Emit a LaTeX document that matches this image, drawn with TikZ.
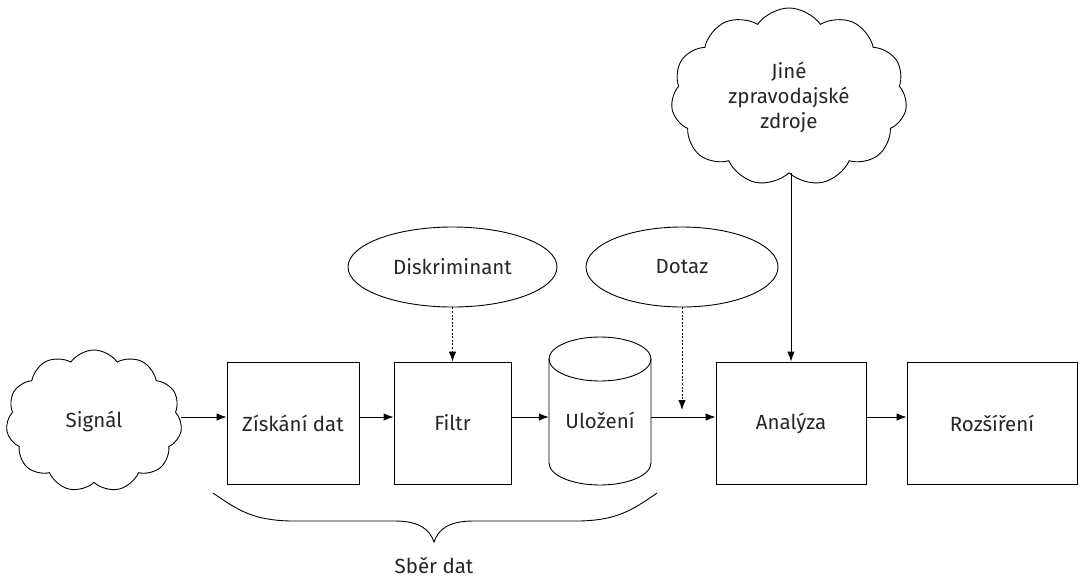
\documentclass[tikz,border=0pt]{standalone}
\usepackage{fontspec}
\setmainfont{Fira Sans}
\usetikzlibrary{shapes.symbols,shapes.geometric,arrows.meta}
\begin{document}
\begin{tikzpicture}[x=1pt,y=-1pt,
  every node/.style={font=\fontsize{20.5}{25}\selectfont, text=black!85},
  line/.style={line width=0.9pt},
  box/.style={draw, line width=0.9pt, rectangle, minimum height=122pt, inner sep=0pt},
  oval/.style={draw, line width=0.9pt, ellipse, minimum height=80pt, inner sep=0pt},
  cloudy/.style={draw, line width=0.9pt, cloud, cloud puffs=11, cloud puff arc=110, aspect=1.4, inner sep=0pt},
  arr/.style={line width=0.9pt, -{Latex[length=10pt,width=7.5pt]}},
  darr/.style={arr, dash pattern=on 2pt off 1.6pt}
]
\useasboundingbox (0,0) rectangle (1084,579);
\fill[white] (0,0) rectangle (1084,579);

\coordinate (lvl) at (0,417);

\node[cloudy, minimum width=176pt, minimum height=142pt] (signal) at (94,421) {Signál};
\node[box, minimum width=132pt] (acq) at (293,423) {Získání dat};
\node[box, minimum width=117pt] (filtr) at (452.5,423) {Filtr};
\node[minimum width=102pt, minimum height=148pt, inner sep=0pt] (store) at (600,411) {};
\draw[line] (549,359) -- (549,463) arc[start angle=180, end angle=0, x radius=51, y radius=22] -- (651,359);
\draw[line] (600,359) ellipse[x radius=51, y radius=22];
\node at (600,420) {Uložení};
\node[box, minimum width=150pt] (anal) at (791,423) {Analýza};
\node[box, minimum width=170pt] (roz) at (992,423) {Rozšíření};

\node[oval, minimum width=209pt] (disk) at (452.5,267) {Diskriminant};
\node[oval, minimum width=192pt] (dotaz) at (682,267) {Dotaz};
\node[cloudy, minimum width=236pt, minimum height=178pt, align=center, font=\fontsize{20.5}{25}\selectfont] (news) at (789,97) {Jiné\\zpravodajské\\zdroje};

\coordinate (q) at (682,410);

\draw[arr] (signal.east |- lvl) -- (acq.west |- lvl);
\draw[arr] (acq.east |- lvl) -- (filtr.west |- lvl);
\draw[arr] (filtr.east |- lvl) -- (store.west |- lvl);
\draw[arr] (store.east |- lvl) -- (anal.west |- lvl);
\draw[arr] (anal.east |- lvl) -- (roz.west |- lvl);
\draw[darr] (disk.south) -- (filtr.north);
\draw[darr] (dotaz.south) -- (q);
\draw[arr] (news.south -| anal.north) -- (anal.north);

\draw[line] (213,493) .. controls (240,512) and (255,520) .. (290,521) -- (395,521)
  .. controls (420,521) and (430,530) .. (434,542)
  .. controls (438,530) and (448,521) .. (473,521) -- (580,521)
  .. controls (615,520) and (630,512) .. (657,493);
\node (label) at (434,566) {Sběr dat};
\end{tikzpicture}
\end{document}
